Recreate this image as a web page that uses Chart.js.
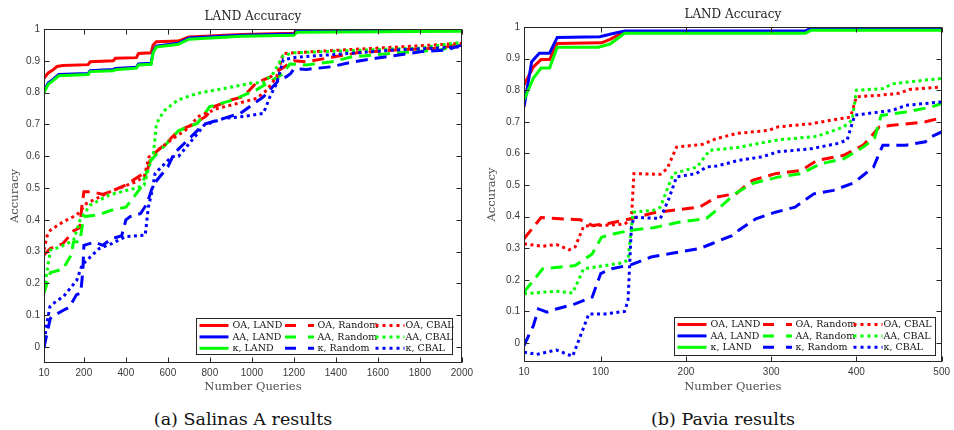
<!DOCTYPE html>
<html>
<head>
<meta charset="utf-8">
<script src="https://cdn.jsdelivr.net/npm/chart.js@4.4.1/dist/chart.umd.min.js"></script>
<style>
  body { margin: 0; background: #fff; }
  #wrap { position: relative; width: 954px; height: 430px; overflow: hidden; }
  canvas { position: absolute; top: 0; }
  .caption {
    position: absolute; top: 408px; line-height: 22px;
    font-family: "DejaVu Serif", serif; font-size: 17.5px; color: #111;
    transform: translateX(-50%); white-space: nowrap;
  }
</style>
</head>
<body>
<div id="wrap">
  <canvas id="salinas" width="477" height="400" style="left:0"></canvas>
  <canvas id="pavia" width="477" height="400" style="left:477px"></canvas>
  <div class="caption" style="left:243px">(a) Salinas A results</div>
  <div class="caption" style="left:723px">(b) Pavia results</div>
</div>
<script>
const seriesLabels = ["OA, LAND", "AA, LAND", "κ, LAND",
  "OA, Random", "AA, Random", "κ, Random",
  "OA, CBAL", "AA, CBAL", "κ, CBAL"];
const seriesColors = ["#ff0000", "#0000ff", "#00ff00",
  "#ff0000", "#00ff00", "#0000ff",
  "#ff0000", "#00ff00", "#0000ff"];

// --- Salinas A: [queries, accuracy] ---
const salinasXTicks = [10, 200, 400, 600, 800, 1000, 1200, 1400, 1600, 1800, 2000];
const salinasYTicks = [0, 0.1, 0.2, 0.3, 0.4, 0.5, 0.6, 0.7, 0.8, 0.9, 1];

const salinasOaLand = [[10,.845],[30,.862],[50,.87],[72,.882],[100,.885],[220,.888],[230,.897],[340,.9],[350,.908],[450,.91],[460,.923],[520,.925],[530,.95],[545,.96],[650,.962],[700,.975],[950,.983],[1200,.987],[1215,.995],[2000,.998]];
const salinasAaLand = [[10,.805],[30,.83],[50,.84],[80,.857],[220,.86],[230,.869],[340,.873],[350,.876],[450,.88],[460,.89],[520,.892],[530,.93],[545,.946],[650,.955],[700,.972],[950,.98],[1200,.984],[1215,.993],[2000,.996]];
const salinasKLand = [[10,.8],[30,.826],[50,.836],[80,.853],[220,.857],[230,.866],[340,.869],[350,.872],[450,.877],[460,.887],[520,.889],[530,.927],[545,.943],[650,.952],[700,.968],[950,.977],[1200,.98],[1215,.99],[2000,.993]];
const salinasOaRandom = [[10,.29],[40,.31],[100,.325],[150,.365],[180,.375],[190,.44],[200,.488],[240,.488],[290,.48],[330,.49],[400,.51],[470,.54],[500,.55],[520,.6],[590,.64],[650,.68],[720,.7],[780,.725],[820,.756],[900,.777],[960,.787],[1020,.83],[1090,.85],[1120,.866],[1180,.892],[1200,.9],[1260,.897],[1380,.911],[1500,.925],[1700,.935],[1900,.94],[2000,.953]];
const salinasAaRandom = [[10,.17],[40,.234],[100,.245],[140,.29],[150,.33],[180,.331],[200,.41],[270,.416],[330,.43],[400,.44],[470,.5],[490,.535],[520,.588],[590,.637],[650,.68],[740,.703],[800,.756],[900,.775],[1020,.808],[1100,.84],[1150,.86],[1180,.89],[1260,.887],[1380,.897],[1480,.913],[1700,.925],[1900,.935],[2000,.95]];
const salinasKRandom = [[10,0],[40,.09],[60,.1],[100,.115],[130,.125],[165,.165],[185,.17],[195,.24],[200,.32],[250,.33],[290,.32],[330,.34],[380,.35],[400,.4],[420,.41],[470,.42],[500,.45],[530,.51],[600,.567],[630,.609],[710,.661],[770,.7],[870,.72],[945,.735],[1055,.787],[1130,.84],[1165,.85],[1185,.86],[1200,.875],[1260,.873],[1375,.881],[1485,.897],[1590,.908],[1700,.918],[1810,.929],[1925,.934],[2000,.95]];
const salinasOaCbal = [[10,.305],[25,.35],[41,.368],[104,.395],[166,.415],[213,.452],[260,.467],[323,.488],[385,.504],[448,.52],[487,.536],[510,.598],[573,.63],[636,.661],[698,.688],[742,.724],[836,.75],[930,.766],[1024,.782],[1071,.808],[1118,.85],[1149,.923],[1430,.934],[1742,.945],[2000,.955]];
const salinasAaCbal = [[10,.18],[33,.274],[41,.305],[88,.315],[151,.336],[182,.4],[229,.446],[323,.479],[448,.5],[487,.509],[510,.567],[530,.6],[545,.7],[560,.72],[586,.745],[648,.777],[742,.798],[867,.813],[992,.829],[1055,.832],[1102,.861],[1149,.916],[1200,.925],[1500,.933],[1800,.94],[2000,.958]];
const salinasKCbal = [[10,0],[20,.06],[38,.127],[60,.14],[104,.16],[166,.21],[187,.25],[198,.263],[273,.31],[335,.326],[398,.347],[492,.352],[507,.44],[526,.494],[539,.546],[617,.598],[651,.6],[742,.672],[773,.698],[867,.719],[961,.725],[1055,.735],[1086,.787],[1118,.829],[1149,.903],[1211,.911],[1681,.934],[2000,.944]];

// --- Pavia: [queries, accuracy] ---
const paviaXTicks = [10, 100, 200, 300, 400, 500];
const paviaYTicks = [0, 0.1, 0.2, 0.3, 0.4, 0.5, 0.6, 0.7, 0.8, 0.9, 1];

const paviaOaLand = [[10,.816],[21,.874],[30,.897],[40,.897],[49,.948],[101,.95],[111,.961],[128,.985],[340,.985],[347,.993],[500,.993]];
const paviaAaLand = [[10,.747],[19,.89],[28,.917],[40,.917],[49,.967],[99,.969],[111,.977],[128,.987],[340,.987],[347,.997],[500,.997]];
const paviaKLand = [[10,.769],[21,.838],[30,.87],[40,.87],[49,.936],[97,.936],[111,.946],[128,.98],[340,.98],[347,.99],[500,.99]];
const paviaOaRandom = [[10,.33],[21,.367],[30,.397],[59,.392],[76,.39],[90,.372],[109,.378],[136,.394],[162,.412],[185,.42],[216,.43],[236,.462],[259,.473],[278,.515],[305,.536],[335,.546],[354,.578],[385,.594],[408,.626],[427,.684],[442,.689],[481,.7],[500,.713]];
const paviaAaRandom = [[10,.161],[21,.198],[32,.235],[70,.245],[90,.282],[101,.335],[116,.346],[136,.357],[162,.365],[193,.383],[224,.394],[240,.43],[258,.473],[278,.505],[308,.525],[335,.536],[358,.567],[385,.583],[408,.62],[421,.647],[429,.72],[458,.731],[488,.747],[500,.758]];
const paviaKRandom = [[10,-.008],[21,.055],[27,.108],[37,.098],[47,.107],[70,.124],[90,.145],[100,.22],[113,.235],[136,.248],[159,.272],[182,.283],[216,.299],[231,.315],[254,.34],[262,.357],[282,.393],[305,.414],[328,.43],[350,.472],[373,.483],[397,.507],[408,.531],[420,.557],[431,.626],[458,.626],[481,.637],[488,.653],[500,.668]];
const paviaOaCbal = [[10,.314],[32,.306],[48,.312],[63,.295],[70,.304],[80,.37],[105,.373],[128,.376],[136,.394],[139,.536],[170,.534],[178,.552],[189,.62],[220,.629],[236,.647],[259,.663],[297,.673],[308,.684],[347,.694],[381,.71],[393,.715],[400,.779],[427,.784],[450,.79],[462,.802],[500,.81]];
const paviaAaCbal = [[10,.156],[32,.161],[48,.164],[67,.158],[80,.235],[105,.245],[124,.253],[132,.262],[138,.414],[162,.42],[170,.43],[185,.536],[213,.557],[228,.61],[259,.618],[308,.643],[354,.654],[385,.684],[395,.705],[400,.8],[431,.805],[442,.82],[481,.832],[500,.837]];
const paviaKCbal = [[10,-.029],[25,-.036],[48,-.022],[67,-.042],[78,.035],[86,.092],[105,.092],[128,.1],[132,.134],[136,.367],[139,.398],[170,.394],[180,.457],[189,.526],[212,.536],[224,.557],[236,.56],[262,.578],[289,.589],[308,.605],[347,.615],[377,.631],[389,.642],[398,.721],[427,.731],[442,.736],[458,.752],[500,.763]];

const dashes = [[], [12, 7], [3, 3.5]];
const legendDashes = [[], [11, 12], [3, 4]];

// box, inward ticks and title like a MATLAB axes
const framePlugin = {
  id: "frame",
  afterDatasetsDraw(chart, args, opts) {
    const { ctx, chartArea: a, scales: { x, y } } = chart;
    const L = Math.round(a.left) + 0.5, R = Math.round(a.right) - 0.5;
    const T = Math.round(a.top) + 0.5, B = Math.round(a.bottom) - 0.5;
    ctx.save();
    ctx.setLineDash([]);
    ctx.strokeStyle = "#262626";
    ctx.lineWidth = 1;
    ctx.strokeRect(L, T, R - L, B - T);
    ctx.beginPath();
    x.ticks.forEach(t => {
      const px = Math.round(x.getPixelForValue(t.value)) + 0.5;
      ctx.moveTo(px, B); ctx.lineTo(px, B - 5);
      ctx.moveTo(px, T); ctx.lineTo(px, T + 5);
    });
    y.ticks.forEach(t => {
      const py = Math.round(y.getPixelForValue(t.value)) + 0.5;
      ctx.moveTo(L, py); ctx.lineTo(L + 5, py);
      ctx.moveTo(R, py); ctx.lineTo(R - 5, py);
    });
    ctx.stroke();
    ctx.fillStyle = "#222";
    ctx.font = '12px "DejaVu Serif"';
    ctx.textAlign = "center";
    ctx.textBaseline = "middle";
    ctx.fillText(opts.title, (a.left + a.right) / 2, a.top - 12);
    ctx.restore();
  }
};

// 3x3 legend box in the lower right corner
const boxLegendPlugin = {
  id: "boxLegend",
  afterDatasetsDraw(chart, args, opts) {
    const { ctx, chartArea: a } = chart;
    const x0 = Math.round(a.right - opts.gapRight - opts.w);
    const y0 = Math.round(a.bottom - opts.gapBottom - opts.h);
    ctx.save();
    ctx.setLineDash([]);
    ctx.fillStyle = "#fff";
    ctx.fillRect(x0, y0, opts.w, opts.h);
    ctx.strokeStyle = "#262626";
    ctx.lineWidth = 1;
    ctx.strokeRect(x0 + 0.5, y0 + 0.5, opts.w, opts.h);
    const colX = [3.5, 89, 179.5];
    const textX = [36.5, 121.5, 209.5];
    ctx.font = '9.5px "DejaVu Serif"';
    ctx.textBaseline = "middle";
    ctx.textAlign = "left";
    chart.data.datasets.forEach((ds, i) => {
      const col = Math.floor(i / 3), row = i % 3;
      const yy = y0 + 7.5 + row * 11.4;
      ctx.strokeStyle = ds.borderColor;
      ctx.lineWidth = 3;
      ctx.setLineDash(legendDashes[col]);
      ctx.beginPath();
      ctx.moveTo(x0 + colX[col], yy);
      ctx.lineTo(x0 + colX[col] + 29, yy);
      ctx.stroke();
      ctx.fillStyle = "#111";
      ctx.fillText(ds.label, x0 + textX[col], yy + 0.5);
    });
    ctx.restore();
  }
};

function makeChart(id, series, xTicks, yTicks, xMin, xMax, yMin, geo) {
  const datasets = series.map((pts, i) => ({
    label: seriesLabels[i],
    data: pts.map(p => ({ x: p[0], y: p[1] })),
    borderColor: seriesColors[i],
    borderDash: dashes[Math.floor(i / 3)],
    borderWidth: 3,
    pointRadius: 0,
    tension: 0,
    fill: false,
    order: 20 - i
  }));
  return new Chart(document.getElementById(id), {
    type: "line",
    data: { datasets },
    plugins: [framePlugin, boxLegendPlugin],
    options: {
      responsive: false,
      animation: false,
      devicePixelRatio: 1,
      layout: { padding: { left: 0, right: geo.padRight, top: geo.padTop, bottom: 0 } },
      plugins: {
        legend: { display: false },
        tooltip: { enabled: false },
        frame: { title: "LAND Accuracy" },
        boxLegend: geo.legend
      },
      scales: {
        x: {
          type: "linear", min: xMin, max: xMax,
          grid: { display: false, drawTicks: false },
          border: { display: false },
          afterBuildTicks: s => { s.ticks = xTicks.map(v => ({ value: v })); },
          afterFit: s => { s.height = geo.xHeight; },
          ticks: {
            font: { family: "Liberation Sans", size: 10 }, color: "#3a3a3a",
            padding: 4, maxRotation: 0, autoSkip: false,
            callback: v => String(v)
          },
          title: {
            display: true, text: "Number Queries", color: "#4d4d4d",
            font: { family: "DejaVu Serif", size: 11.5 },
            padding: { top: 0, bottom: 6 }
          }
        },
        y: {
          type: "linear", min: yMin, max: 1,
          grid: { display: false, drawTicks: false },
          border: { display: false },
          afterBuildTicks: s => { s.ticks = yTicks.map(v => ({ value: v })); },
          afterFit: s => { s.width = geo.yWidth; },
          ticks: {
            font: { family: "Liberation Sans", size: 10 }, color: "#3a3a3a",
            padding: 4,
            callback: v => String(+v.toFixed(2))
          },
          title: {
            display: true, text: "Accuracy", color: "#4d4d4d",
            font: { family: "DejaVu Serif", size: 11.5 },
            padding: { top: 8, bottom: 0 }
          }
        }
      }
    }
  });
}

makeChart("salinas",
  [salinasOaLand, salinasAaLand, salinasKLand, salinasOaRandom, salinasAaRandom, salinasKRandom, salinasOaCbal, salinasAaCbal, salinasKCbal],
  salinasXTicks, salinasYTicks, 10, 2000, -0.05,
  { padRight: 9, padTop: 29, xHeight: 37, yWidth: 44,
    legend: { w: 256, h: 36, gapRight: 10, gapBottom: 9 } });

makeChart("pavia",
  [paviaOaLand, paviaAaLand, paviaKLand, paviaOaRandom, paviaAaRandom, paviaKRandom, paviaOaCbal, paviaAaCbal, paviaKCbal],
  paviaXTicks, paviaYTicks, 10, 500, -0.06,
  { padRight: 4, padTop: 27, xHeight: 38, yWidth: 47,
    legend: { w: 261, h: 38, gapRight: 7, gapBottom: 7 } });
</script>
</body>
</html>
